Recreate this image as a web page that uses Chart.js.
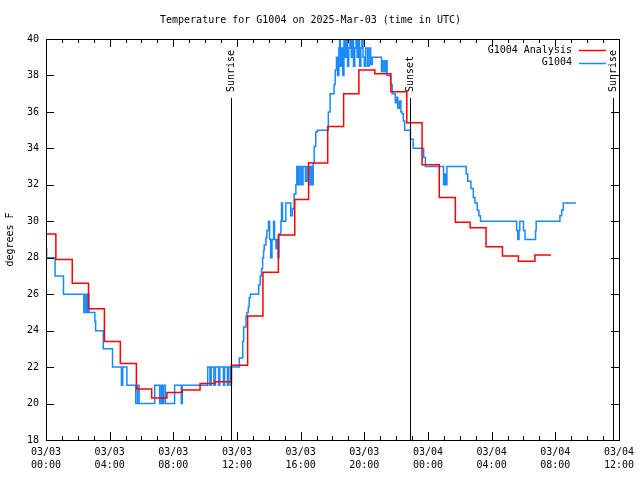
<!DOCTYPE html>
<html><head><meta charset="utf-8">
<script src="https://cdn.jsdelivr.net/npm/chart.js@4/dist/chart.umd.min.js"></script>
<style>html,body{margin:0;padding:0;background:#fff}#wrap{width:640px;height:480px}</style>
</head><body><div id="wrap"><canvas id="c" width="640" height="480"></canvas></div>
<script>
// ---- data (hours since 03/03 00:00 UTC) ----
const analysisHours = [0,0.62,1.65,2.67,3.67,4.67,5.68,6.64,7.6,8.56,9.68,10.6,11.65,12.67,13.63,14.6,15.63,16.5,17.7,18.7,19.66,20.66,21.67,22.67,23.63,24.71,25.72,26.65,27.65,28.68,29.68,30.72,31.73];
const analysisTemps = [29.3,27.9,26.6,25.2,23.4,22.2,20.8,20.3,20.6,20.75,21.1,21.2,22.1,24.8,27.2,29.25,31.2,33.2,35.2,37.0,38.3,38.1,37.1,35.4,33.1,31.3,29.95,29.65,28.6,28.1,27.8,28.15,28.15];

const obsHours = [0,0.04,0.57,1.1,2.38,2.45,2.55,2.62,2.7,3.07,3.12,3.6,4.18,4.74,4.82,5.08,5.64,5.75,5.85,6.83,7.14,7.24,7.33,7.39,7.5,8.08,8.5,8.56,
  10.16,10.3,10.38,10.55,10.65,10.85,10.92,11.15,11.22,11.4,11.48,11.6,11.65,12.15,12.19,12.36,12.42,12.57,12.63,12.71,12.77,12.84,
  13.36,13.46,13.54,13.61,13.67,13.71,13.82,13.88,13.98,14.05,14.12,14.2,14.3,14.36,14.45,14.5,14.58,14.64,14.76,14.8,14.86,15.07,15.38,15.49,15.59,15.7,
  15.76,15.85,15.95,16.05,16.15,16.3,16.4,16.5,16.6,16.7,16.79,16.85,16.95,17.05,17.74,17.85,
  18.1,18.17,18.25,18.32,18.4,18.45,18.5,18.58,18.65,18.72,18.8,18.88,18.95,19.02,19.1,19.18,19.25,19.32,19.4,19.48,19.55,19.62,19.7,19.78,19.85,19.92,20.0,20.08,20.2,20.3,20.4,20.5,
  21.08,21.15,21.25,21.35,21.43,21.65,21.75,21.85,21.95,22.05,22.1,22.2,22.3,22.38,22.45,22.54,22.9,23.07,23.73,23.84,24.98,25.04,25.1,25.19,
  26.4,26.5,26.7,26.85,26.95,27.1,27.2,27.3,29.57,29.64,29.72,29.77,30.0,30.1,30.76,30.8,32.29,32.4,32.5,33.29];
const obsTemps = [28.5,28,27,26,25,26,25,26,25,24.5,24,23,22,21,22,21,20,21,20,21,20,21,20,21,20,21,20,21,
  22,21,22,21,22,21,22,21,22,21,22,21,22,22.5,22.5,23.4,24.2,24.8,25,25.3,25.8,26,
  26.5,27,27.4,28,28.4,28.7,29.1,29.5,30,29,28,29,30,29,28.5,29,28,29.3,30,31,30,31,30.3,30.7,31.5,32,
  33,32,33,32,33,32.2,33,32,33,32,33.2,34.1,34.9,35,36,37,
  37.5,38.3,39,38,39.5,40,38.5,39.5,38,40,39,40,38.5,39.5,40,39,40,38.5,39.5,40,39,40,38.5,39.5,40,39,38.5,39.5,38.5,39.5,38.6,39,
  38.2,38.8,38.2,38.8,38,37.5,37,37,36.5,36.8,36.2,36.6,36,35.9,35.5,35,34.5,34,33.5,33,32,32.6,32,33,
  32.6,32.2,31.8,31.3,31.0,30.6,30.3,30,29.5,29,29.5,30,29.5,29,29.5,30,30.3,30.6,31,31];

const xTickHours = [0,4,8,12,16,20,24,28,32,36];
const xTickDates = ['03/03','03/03','03/03','03/03','03/03','03/03','03/04','03/04','03/04','03/04'];
const xTickTimes = ['00:00','04:00','08:00','12:00','16:00','20:00','00:00','04:00','08:00','12:00'];
const yTicks = [18,20,22,24,26,28,30,32,34,36,38,40];
const eventHours = [11.63, 22.9, 35.63];
const eventLabels = ['Sunrise','Sunset','Sunrise'];

const FONT = 'DejaVu Sans Mono';
const RED = '#ff0000', BLUE = '#1a88ff';

const pts = (xs, ys) => xs.map((x, i) => ({x, y: ys[i]}));

const decor = {
  id: 'decor',
  afterDatasetsDraw(chart) {
    const {ctx, chartArea: a, scales: {x, y}} = chart;
    ctx.save();
    ctx.strokeStyle = '#000';
    ctx.lineWidth = 1;
    // frame
    ctx.strokeRect(Math.round(a.left) + 0.5, Math.round(a.top) + 0.5, Math.round(a.right - a.left), Math.round(a.bottom - a.top));
    // x ticks (inward, mirrored)
    ctx.beginPath();
    for (let h = x.min; h <= x.max; h += 1) {
      const px = Math.round(x.getPixelForValue(h)) + 0.5;
      const len = (xTickHours.includes(h)) ? 8 : 4;
      ctx.moveTo(px, a.bottom); ctx.lineTo(px, a.bottom - len);
      ctx.moveTo(px, a.top); ctx.lineTo(px, a.top + len);
    }
    for (const v of yTicks) {
      const py = Math.round(y.getPixelForValue(v)) + 0.5;
      ctx.moveTo(a.left, py); ctx.lineTo(a.left + 8, py);
      ctx.moveTo(a.right, py); ctx.lineTo(a.right - 8, py);
    }
    ctx.stroke();
    // sunrise / sunset
    ctx.font = '10px "' + FONT + '"';
    ctx.fillStyle = '#000';
    eventHours.forEach((h, i) => {
      const px = Math.round(x.getPixelForValue(h)) + 0.5;
      ctx.beginPath();
      ctx.moveTo(px, a.top + 59); ctx.lineTo(px, a.bottom);
      ctx.stroke();
      ctx.save();
      ctx.translate(px, a.top + 53);
      ctx.rotate(-Math.PI / 2);
      ctx.textAlign = 'left';
      ctx.textBaseline = 'middle';
      ctx.fillText(eventLabels[i], 0, 0);
      ctx.restore();
    });
    // legend
    chart.data.datasets.forEach((ds, i) => {
      const ly = a.top + 11 + i * 12.5;
      ctx.textAlign = 'right';
      ctx.textBaseline = 'middle';
      ctx.fillStyle = '#000';
      ctx.fillText(ds.label, a.right - 47, ly);
      ctx.strokeStyle = ds.borderColor;
      ctx.lineWidth = 1.5;
      ctx.beginPath();
      ctx.moveTo(a.right - 40, Math.round(ly) + 0.5);
      ctx.lineTo(a.right - 13, Math.round(ly) + 0.5);
      ctx.stroke();
    });
    ctx.restore();
  }
};

new Chart(document.getElementById('c'), {
  type: 'line',
  data: {
    datasets: [
      {label: 'G1004 Analysis', data: pts(analysisHours, analysisTemps), borderColor: RED, borderWidth: 1.5, stepped: true, pointRadius: 0, fill: false},
      {label: 'G1004', data: pts(obsHours, obsTemps), borderColor: BLUE, borderWidth: 1.5, stepped: true, pointRadius: 0, fill: false}
    ]
  },
  options: {
    responsive: false,
    animation: false,
    devicePixelRatio: 1,
    layout: {padding: {left: 0, right: 19, top: 0, bottom: 0}},
    plugins: {
      legend: {display: false},
      tooltip: {enabled: false},
      title: {display: true, text: 'Temperature for G1004 on 2025-Mar-03 (time in UTC)', color: '#000',
        font: {family: FONT, size: 10, weight: 'normal', lineHeight: 1.2}, padding: {top: 14, bottom: 13}}
    },
    scales: {
      x: {
        type: 'linear', min: 0, max: 36,
        afterBuildTicks: s => { s.ticks = xTickHours.map(v => ({value: v})); },
        afterFit: s => { s.height = 40; },
        grid: {display: false, drawTicks: false},
        border: {display: false},
        ticks: {autoSkip: false, maxRotation: 0, color: '#000', padding: 6,
          font: {family: FONT, size: 10, lineHeight: 1.3},
          callback: v => { const i = xTickHours.indexOf(v); return i < 0 ? '' : [xTickDates[i], xTickTimes[i]]; }}
      },
      y: {
        type: 'linear', min: 18, max: 40,
        afterBuildTicks: s => { s.ticks = yTicks.map(v => ({value: v})); },
        afterFit: s => { s.width = 46; },
        grid: {display: false, drawTicks: false},
        border: {display: false},
        ticks: {color: '#000', padding: 7, font: {family: FONT, size: 10}},
        title: {display: true, text: 'degrees F', color: '#000', padding: {top: 4, bottom: 0}, font: {family: FONT, size: 10}}
      }
    }
  },
  plugins: [decor]
});
</script>
</body></html>
